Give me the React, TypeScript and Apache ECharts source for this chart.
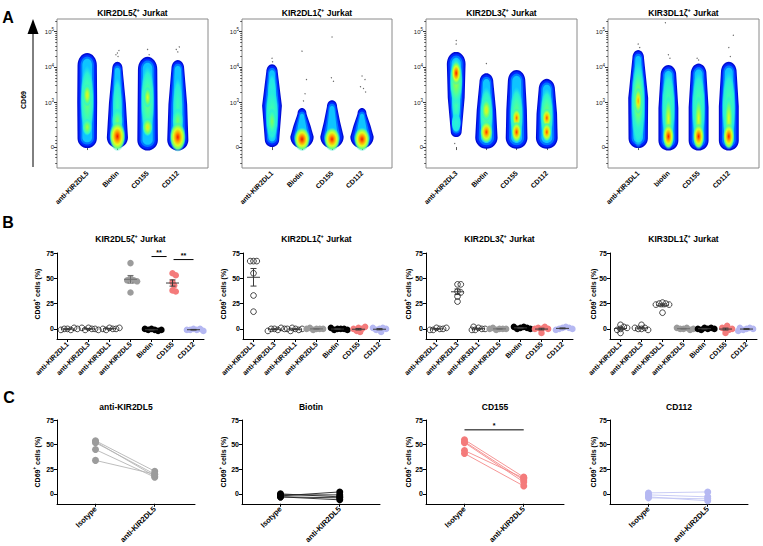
import React, { useEffect, useRef } from 'react';
import * as echarts from 'echarts';

const FONT = '"Liberation Sans", Arial, Helvetica, sans-serif';

// ---------------- Panel A (flow density plots) ----------------
const A_TITLES = ['KIR2DL5ζ', 'KIR2DL1ζ', 'KIR2DL3ζ', 'KIR3DL1ζ'];
const A_X_LABELS = [
  ['anti-KIR2DL5', 'Biotin', 'CD155', 'CD112'],
  ['anti-KIR2DL1', 'Biotin', 'CD155', 'CD112'],
  ['anti-KIR2DL3', 'Biotin', 'CD155', 'CD112'],
  ['anti-KIR3DL1', 'biotin', 'CD155', 'CD112'],
];
const A_Y_TICKS = [0, 1.25, 2.25, 3.25];
const A_Y_EXP = ['', '3', '4', '5'];
const A_Y_MINOR = [
  -0.45, -0.3, -0.2, -0.1, 0.1, 0.2, 0.3,
  0.55, 0.73, 0.85, 0.95, 1.03, 1.1, 1.15, 1.2,
  1.55, 1.73, 1.85, 1.95, 2.03, 2.1, 2.15, 2.2,
  2.55, 2.73, 2.85, 2.95, 3.03, 3.1, 3.15, 3.2, 3.55,
];
// body: [column, bottom, top, halfWidthLow, halfWidthMid, halfWidthHigh]
const A1_BODY = [
  [1, -0.03, 2.65, 0.32, 0.33, 0.32],
  [2, -0.03, 2.4, 0.35, 0.28, 0.17],
  [3, -0.1, 2.54, 0.34, 0.33, 0.32],
  [4, -0.1, 2.45, 0.35, 0.31, 0.21],
];
const A2_BODY = [
  [1, 0.0, 2.33, 0.24, 0.33, 0.19],
  [2, -0.04, 1.1, 0.39, 0.28, 0.15],
  [3, -0.04, 1.32, 0.39, 0.27, 0.17],
  [4, -0.04, 1.1, 0.39, 0.28, 0.15],
];
const A3_BODY = [
  [1, 0.28, 2.68, 0.18, 0.28, 0.31],
  [2, -0.05, 2.08, 0.37, 0.32, 0.23],
  [3, -0.05, 2.17, 0.36, 0.34, 0.29],
  [4, -0.05, 1.92, 0.36, 0.34, 0.27],
];
const A4_BODY = [
  [1, -0.03, 2.73, 0.32, 0.33, 0.19],
  [2, -0.1, 2.31, 0.33, 0.33, 0.26],
  [3, -0.1, 2.35, 0.33, 0.33, 0.26],
  [4, -0.1, 2.4, 0.33, 0.33, 0.26],
];
// hot spots: [column, centre, halfHeight, halfWidth, level]
const A1_HOT = [
  [1, 1.3, 1.0, 0.23, 0.56], [1, 1.46, 0.32, 0.14, 0.7], [1, 0.56, 0.24, 0.16, 0.62],
  [2, 1.1, 0.85, 0.16, 0.5], [2, 0.75, 0.35, 0.18, 0.57], [2, 0.3, 0.42, 0.27, 0.94],
  [3, 1.3, 1.0, 0.23, 0.56], [3, 1.4, 0.3, 0.13, 0.68], [3, 0.56, 0.26, 0.17, 0.71],
  [4, 1.1, 0.85, 0.16, 0.5], [4, 0.75, 0.35, 0.18, 0.57], [4, 0.28, 0.42, 0.27, 0.93],
];
const A2_HOT = [
  [1, 1.5, 0.55, 0.14, 0.46], [1, 0.9, 0.78, 0.22, 0.52], [1, 0.72, 0.38, 0.15, 0.58],
  [2, 0.22, 0.34, 0.27, 0.95],
  [3, 0.22, 0.34, 0.27, 0.93],
  [4, 0.22, 0.34, 0.27, 0.94],
];
const A3_HOT = [
  [1, 1.3, 0.65, 0.15, 0.52], [1, 1.85, 0.68, 0.22, 0.62], [1, 2.08, 0.34, 0.17, 0.93], [1, 0.68, 0.27, 0.16, 0.46],
  [2, 0.9, 0.8, 0.22, 0.56], [2, 1.04, 0.32, 0.16, 0.71], [2, 0.42, 0.32, 0.21, 0.9],
  [3, 0.9, 0.8, 0.22, 0.56], [3, 0.82, 0.27, 0.15, 0.86], [3, 0.42, 0.3, 0.17, 0.9],
  [4, 0.9, 0.75, 0.22, 0.58], [4, 0.82, 0.27, 0.16, 0.88], [4, 0.42, 0.27, 0.16, 0.88],
];
const A4_HOT = [
  [1, 1.2, 1.25, 0.24, 0.52], [1, 1.3, 0.95, 0.2, 0.63], [1, 1.3, 0.38, 0.13, 0.8],
  [2, 1.1, 1.05, 0.23, 0.53], [2, 0.8, 0.65, 0.14, 0.68], [2, 0.3, 0.37, 0.19, 0.93],
  [3, 1.1, 1.05, 0.23, 0.53], [3, 0.8, 0.65, 0.14, 0.68], [3, 0.3, 0.37, 0.19, 0.93],
  [4, 1.1, 1.05, 0.23, 0.53], [4, 0.8, 0.65, 0.14, 0.68], [4, 0.3, 0.37, 0.19, 0.93],
];
// sparse events: [x, y]
const A1_DOTS = [[2.0, 2.65], [2.05, 2.72], [1.95, 2.6], [3.0, 2.75], [3.05, 2.6], [3.95, 2.75], [4.05, 2.82], [4.0, 2.68], [2.02, 2.55]];
const A2_DOTS = [[1.0, 2.5], [1.02, 2.4], [2.0, 2.7], [2.15, 1.9], [2.1, 1.5], [2.05, 1.3], [3.0, 3.1], [2.98, 1.95], [3.05, 1.85], [4.0, 2.0], [4.1, 1.9], [4.05, 1.65], [4.12, 1.55], [3.95, 1.7]];
const A3_DOTS = [[1.0, 3.0], [1.0, 2.9], [0.95, 0.1], [2.0, 2.35]];
const A4_DOTS = [[1.0, 2.9], [1.05, 2.8], [1.9, 3.5], [2.0, 2.6], [2.05, 2.5], [2.95, 2.5], [3.0, 2.45], [4.0, 2.8], [4.15, 3.15], [4.05, 2.55]];

// ---------------- Panel B (dot plots) ----------------
const B_TITLES = ['KIR2DL5ζ', 'KIR2DL1ζ', 'KIR2DL3ζ', 'KIR3DL1ζ'];
const B_CATS = ['anti-KIR2DL1', 'anti-KIR2DL3', 'anti-KIR3DL1', 'anti-KIR2DL5', 'Biotin', 'CD155', 'CD112'];
const B_KIND = ['open', 'open', 'open', 'gray', 'black', 'salmon', 'lavender'];
const B_Y_TICKS = [0, 25, 50, 75];
const B1_VALUES = [
  [0, -1, 0, 1, -1, 0],
  [1, 0, -1, 0, 1, -1],
  [1, 0, -1, 0, 0, 1],
  [65, 50, 48, 48, 47, 36],
  [0, -1, -1, -2, 0, -1],
  [55, 53, 46, 43, 38, 37],
  [0, -1, -1, 0, -1, -2],
];
const B2_VALUES = [
  [67, 67, 67, 55, 33, 17],
  [0, -1, 0, 1, -2, 0],
  [0, -1, 1, -2, 0, 0],
  [0, 0, -1, 0, 1, 0],
  [0, 0, -1, 0, 1, -1],
  [1, 0, -2, 0, 2, -3],
  [0, 1, -1, -3, 0, 1],
];
const B3_VALUES = [
  [1, 0, -1, 0, -1, 1],
  [44, 44, 37, 36, 32, 27],
  [1, 0, -1, 2, 0, -1],
  [0, 0, -1, 0, 1, 0],
  [1, 2, 0, 1, 2, 0],
  [0, 2, 1, 0, -4, 0],
  [1, 2, 0, 1, -1, 0],
];
const B4_VALUES = [
  [0, 2, 4, -1, -4, 1],
  [0, 1, 4, 0, -1, 1],
  [26, 25, 25, 24, 24, 16],
  [0, 1, 0, -1, 1, 0],
  [1, 0, -1, 1, 0, 0],
  [0, 3, -1, -4, 1, 0],
  [0, 1, -1, 0, 1, -2],
];
// significance on KIR2DL5 plot: [from, to, height]
const B1_SIG = [[4, 4.72, 71.5], [5.05, 6.0, 68.5]];
const B1_SIG_LABELS = ['**', '**'];

// ---------------- Panel C (paired plots) ----------------
const C_TITLES = ['anti-KIR2DL5', 'Biotin', 'CD155', 'CD112'];
const C_CATS = ['Isotype', 'anti-KIR2DL5'];
const C1_ISO = [54, 53, 52, 45, 34];
const C1_ANTI = [23, 18, 20, 17, 20];
const C2_ISO = [-1, -3, -2, 0, -3];
const C2_ANTI = [-1, -6, 2, -3, -4];
const C3_ISO = [55, 53, 52, 44, 41];
const C3_ANTI = [17, 14, 12, 16, 8];
const C4_ISO = [1, -1, -3, -4];
const C4_ANTI = [2, -3, -7, -5];
const C3_SIG = [[0, 1, 65]];
const C3_SIG_LABELS = ['*'];

// ---------------- styling / layout ----------------
const A_LEFT = [57, 242, 426, 608];
const A_W = [151, 150, 151, 151];
const B_LEFT = [57, 243, 426, 610];
const C_LEFT = [57, 242, 426, 610];
const Y_TITLE_X = [37, 223, 408, 593];

const COLORS: Record<string, string> = {
  open: '#1a1a1a', gray: '#9c9c9c', black: '#000000', salmon: '#f47b7b', lavender: '#b5b8f2',
};
const C_COLOR = ['#9c9c9c', '#000000', '#f47b7b', '#b5b8f2'];
const C_LINE = ['#b5b5b5', '#222222', '#f48a8a', '#c3c6f4'];

const JET: [number, number[]][] = [
  [0, [0, 0, 150]], [0.12, [0, 20, 255]], [0.3, [0, 140, 255]], [0.4, [20, 220, 255]],
  [0.5, [60, 255, 180]], [0.58, [130, 255, 90]], [0.68, [225, 255, 30]], [0.76, [255, 205, 0]],
  [0.84, [255, 120, 0]], [0.92, [255, 30, 0]], [1, [205, 0, 0]],
];
function jet(v: number, a = 1) {
  v = Math.max(0, Math.min(1, v));
  for (let i = 1; i < JET.length; i++) {
    if (v <= JET[i][0]) {
      const [p0, c0] = JET[i - 1];
      const [p1, c1] = JET[i];
      const t = (v - p0) / (p1 - p0);
      const c = c0.map((x, k) => Math.round(x + (c1[k] - x) * t));
      return `rgba(${c[0]},${c[1]},${c[2]},${a})`;
    }
  }
  return 'rgba(205,0,0,1)';
}
const LAYERS = [
  { f: 1, inset: 0, color: jet(0.07) },
  { f: 0.88, inset: 1.6, color: jet(0.15) },
  { f: 0.69, inset: 3.6, color: jet(0.27) },
  { f: 0.5, inset: 5.8, color: jet(0.37) },
];

function hotGradient(lvl: number) {
  const offs = [0, 0.3, 0.55, 0.78, 1];
  return {
    type: 'radial', x: 0.5, y: 0.5, r: 0.5,
    colorStops: offs.map((o, i) => ({
      offset: o,
      color: jet(lvl - (lvl - 0.42) * (i / (offs.length - 1)), i === offs.length - 1 ? 0 : 1),
    })),
  };
}

function profilePts(cx: number, yb: number, yt: number, wl: number, wm: number, wh: number) {
  const L = yb - yt;
  if (L < 2) return null;
  const capL = Math.min(Math.max(wl, 1), L * 0.4);
  const capH = Math.min(Math.max(wh * 1.3, 1), L * 0.4);
  const right: number[][] = [];
  const N = 8;
  for (let i = 0; i <= N; i++) {
    const th = (i / N) * Math.PI / 2;
    right.push([cx + wl * Math.sin(th), yb - capL * (1 - Math.cos(th))]);
  }
  const M = 10;
  const midLen = L - capL - capH;
  for (let i = 1; i < M; i++) {
    const t = i / M;
    const w = t < 0.5 ? wl + (wm - wl) * t * 2 : wm + (wh - wm) * (t - 0.5) * 2;
    right.push([cx + w, yb - capL - midLen * t]);
  }
  for (let i = N; i >= 0; i--) {
    const th = (i / N) * Math.PI / 2;
    right.push([cx + wh * Math.sin(th), yt + capH * (1 - Math.cos(th))]);
  }
  const left = right.slice().reverse().map((p) => [2 * cx - p[0], p[1]]);
  return right.concat(left);
}

function flowRender(body: number[][], hot: number[][]) {
  return (params: any, api: any) => {
    const [col, lo, hi, wl, wm, wh] = body[params.dataIndex];
    const cx = api.coord([col, 0])[0];
    const yLo = api.coord([col, lo])[1];
    const yHi = api.coord([col, hi])[1];
    const ux = api.size([1, 0])[0];
    const children: any[] = [];
    LAYERS.forEach((ly) => {
      const pts = profilePts(cx, yLo - ly.inset, yHi + ly.inset, wl * ux * ly.f, wm * ux * ly.f, wh * ux * ly.f);
      if (pts) children.push({ type: 'polygon', shape: { points: pts }, style: { fill: ly.color } });
    });
    hot.filter((h) => h[0] === col).forEach((h) => {
      const [c, yc, hh, hw, lvl] = h;
      const p = api.coord([c, yc]);
      const ry = Math.abs(api.size([0, hh])[1]);
      children.push({ type: 'ellipse', shape: { cx: p[0], cy: p[1], rx: hw * ux, ry }, style: { fill: hotGradient(lvl) } });
    });
    return { type: 'group', children };
  };
}

const DOT = 6.5;
function swarm(ys: number[]) {
  const placed: { x: number; y: number }[] = [];
  const minDist = 3.3;
  const step = 1.65;
  return ys.map((y) => {
    let off = 0;
    for (let k = 0; k < 40; k++) {
      const cand = k === 0 ? 0 : (k % 2 ? 1 : -1) * Math.ceil(k / 2) * step;
      if (placed.every((p) => Math.hypot(p.x - cand, p.y - y) >= minDist)) { off = cand; break; }
    }
    placed.push({ x: off, y });
    return off;
  });
}
const mean = (a: number[]) => a.reduce((s, x) => s + x, 0) / a.length;
const sem = (a: number[]) => {
  const m = mean(a);
  return Math.sqrt(a.reduce((s, x) => s + (x - m) * (x - m), 0) / (a.length - 1)) / Math.sqrt(a.length);
};

function dotRender(values: number[][]) {
  return (params: any, api: any) => {
    const g = params.dataIndex;
    const vals = values[g];
    const kind = B_KIND[g];
    const cx = api.coord([g, 0])[0];
    const ys = vals.map((v) => api.coord([g, v])[1]);
    const offs = swarm(ys);
    const children: any[] = [];
    ys.forEach((y, i) => {
      children.push({
        type: 'circle',
        shape: { cx: cx + offs[i], cy: y, r: kind === 'open' ? DOT / 2 - 0.4 : DOT / 2 },
        style: kind === 'open' ? { fill: 'none', stroke: COLORS.open, lineWidth: 0.8 } : { fill: COLORS[kind] },
      });
    });
    const m = mean(vals);
    const s = sem(vals);
    const yM = api.coord([g, m])[1];
    const yA = api.coord([g, m + s])[1];
    const yB = api.coord([g, m - s])[1];
    const lc = kind === 'gray' ? '#6e6e6e' : '#3a3a3a';
    const ls = { stroke: lc, lineWidth: 1 };
    children.push({ type: 'line', shape: { x1: cx - 6.5, y1: yM, x2: cx + 6.5, y2: yM }, style: ls });
    children.push({ type: 'line', shape: { x1: cx, y1: yA, x2: cx, y2: yB }, style: ls });
    children.push({ type: 'line', shape: { x1: cx - 3, y1: yA, x2: cx + 3, y2: yA }, style: ls });
    children.push({ type: 'line', shape: { x1: cx - 3, y1: yB, x2: cx + 3, y2: yB }, style: ls });
    return { type: 'group', children };
  };
}

function sigRender(sig: number[][], labels: string[]) {
  return (params: any, api: any) => {
    const [x1, x2, y] = sig[params.dataIndex];
    const p1 = api.coord([x1, y]);
    const p2 = api.coord([x2, y]);
    return {
      type: 'group',
      children: [
        { type: 'line', shape: { x1: p1[0], y1: p1[1], x2: p2[0], y2: p2[1] }, style: { stroke: '#000', lineWidth: 1 } },
        {
          type: 'text', x: (p1[0] + p2[0]) / 2, y: p1[1] - 0.5,
          style: { text: labels[params.dataIndex], align: 'center', verticalAlign: 'bottom', fontSize: 7, fontWeight: 'bold', fontFamily: FONT, fill: '#000' },
        },
      ],
    };
  };
}

function supText(main: string, rest: string, fs: number, x: number, y: number, rotate = 0) {
  return {
    type: 'text', x, y, rotation: rotate,
    style: {
      text: `{t|${main}}{u|+}{t|${rest}}`,
      align: 'center', verticalAlign: 'middle', fill: '#000',
      rich: {
        t: { fontSize: fs, fontWeight: 'bold', fontFamily: FONT, fill: '#000' },
        u: { fontSize: fs * 0.65, fontWeight: 'bold', fontFamily: FONT, fill: '#000', padding: [0, 0, fs * 0.7, 0] },
      },
    },
  };
}

function buildOption() {
  const grid: any[] = [];
  const xAxis: any[] = [];
  const yAxis: any[] = [];
  const series: any[] = [];
  const graphic: any[] = [];

  const A_BODIES = [A1_BODY, A2_BODY, A3_BODY, A4_BODY];
  const A_HOTS = [A1_HOT, A2_HOT, A3_HOT, A4_HOT];
  const A_DOTS = [A1_DOTS, A2_DOTS, A3_DOTS, A4_DOTS];
  const B_VALUES = [B1_VALUES, B2_VALUES, B3_VALUES, B4_VALUES];
  const C_ISO = [C1_ISO, C2_ISO, C3_ISO, C4_ISO];
  const C_ANTI = [C1_ANTI, C2_ANTI, C3_ANTI, C4_ANTI];

  const xLabel = (fs: number) => ({ rotate: 45, fontSize: fs, fontWeight: 'bold', fontFamily: FONT, color: '#000', margin: 4 });
  const yLabel = { fontSize: 7, fontWeight: 'bold', fontFamily: FONT, color: '#000', margin: 3 };

  // A grids 0..3
  for (let i = 0; i < 4; i++) {
    grid.push({ left: A_LEFT[i], top: 19, width: A_W[i], height: 149, show: true, borderColor: '#8a8a8a', borderWidth: 1, backgroundColor: 'transparent' });
    const labels = A_X_LABELS[i];
    xAxis.push({
      gridIndex: i, type: 'value', min: 0, max: 5,
      axisLine: { show: false }, splitLine: { show: false },
      axisTick: { show: true, customValues: [1, 2, 3, 4], length: 3, lineStyle: { color: '#555' } },
      axisLabel: { ...xLabel(7), customValues: [1, 2, 3, 4], formatter: (v: number) => labels[Math.round(v) - 1] },
    });
    graphic.push(supText(A_TITLES[i], ' Jurkat', 8.5, A_LEFT[i] + A_W[i] / 2, 13));
  }
  // B grids 4..7
  for (let i = 0; i < 4; i++) {
    grid.push({ left: B_LEFT[i], top: 253, width: 147, height: 86 });
    xAxis.push({
      gridIndex: 4 + i, type: 'value', min: -0.5, max: 6.5,
      axisLine: { onZero: false, lineStyle: { color: '#000', width: 1 } }, splitLine: { show: false },
      axisTick: { customValues: [0, 1, 2, 3, 4, 5, 6], length: 3, lineStyle: { color: '#000' } },
      axisLabel: { ...xLabel(7), customValues: [0, 1, 2, 3, 4, 5, 6], formatter: (v: number) => B_CATS[Math.round(v)] },
    });
    graphic.push(supText(B_TITLES[i], ' Jurkat', 8.5, B_LEFT[i] + 73.5, 239));
    graphic.push(supText('CD69', ' cells (%)', 7, Y_TITLE_X[i], 294, Math.PI / 2));
  }
  // C grids 8..11
  for (let i = 0; i < 4; i++) {
    grid.push({ left: C_LEFT[i], top: 420, width: 138, height: 86 });
    xAxis.push({
      gridIndex: 8 + i, type: 'value', min: -0.65, max: 1.68,
      axisLine: { onZero: false, lineStyle: { color: '#000', width: 1 } }, splitLine: { show: false },
      axisTick: { customValues: [0, 1], length: 3, lineStyle: { color: '#000' } },
      axisLabel: { ...xLabel(7.5), customValues: [0, 1], formatter: (v: number) => C_CATS[Math.round(v)] },
    });
    graphic.push({
      type: 'text', x: C_LEFT[i] + 69, y: 407,
      style: { text: C_TITLES[i], align: 'center', verticalAlign: 'middle', fontSize: 8.5, fontWeight: 'bold', fontFamily: FONT, fill: '#000' },
    });
    graphic.push(supText('CD69', ' cells (%)', 7, Y_TITLE_X[i], 462, Math.PI / 2));
  }

  // main y axes 0..11
  for (let g = 0; g < 12; g++) {
    if (g < 4) {
      yAxis.push({
        gridIndex: g, type: 'value', min: -0.59, max: 3.606,
        axisLine: { show: false }, splitLine: { show: false },
        axisTick: { customValues: A_Y_TICKS, length: 3, lineStyle: { color: '#333' } },
        axisLabel: {
          customValues: A_Y_TICKS, margin: 3, fontSize: 6, fontFamily: FONT, color: '#222',
          formatter: (v: number) => {
            const k = A_Y_TICKS.findIndex((t) => Math.abs(t - v) < 1e-6);
            return k <= 0 ? '{b|0}' : `{b|10}{s|${A_Y_EXP[k]}}`;
          },
          rich: {
            b: { fontSize: 6, fontFamily: FONT, color: '#222' },
            s: { fontSize: 4.5, fontFamily: FONT, color: '#222', padding: [0, 0, 4, 0] },
          },
        },
      });
    } else {
      yAxis.push({
        gridIndex: g, type: 'value', min: -10, max: 75,
        axisLine: { show: true, onZero: false, lineStyle: { color: '#000', width: 1 } }, splitLine: { show: false },
        axisTick: { show: true, customValues: B_Y_TICKS, length: 3, lineStyle: { color: '#000' } },
        axisLabel: { ...yLabel, customValues: B_Y_TICKS },
      });
    }
  }
  // minor ticks for A (12..15)
  for (let i = 0; i < 4; i++) {
    yAxis.push({
      gridIndex: i, type: 'value', min: -0.59, max: 3.606, position: 'left',
      axisLine: { show: false }, splitLine: { show: false }, axisLabel: { show: false },
      axisTick: { show: true, customValues: A_Y_MINOR, length: 1.8, lineStyle: { color: '#333', width: 0.8 } },
    });
  }

  // A series
  for (let i = 0; i < 4; i++) {
    series.push({
      type: 'custom', xAxisIndex: i, yAxisIndex: i, silent: true, clip: false,
      data: A_BODIES[i].map((b) => [b[0], (b[1] + b[2]) / 2]),
      renderItem: flowRender(A_BODIES[i], A_HOTS[i]),
    });
    series.push({
      type: 'scatter', xAxisIndex: i, yAxisIndex: i, silent: true,
      data: A_DOTS[i], symbolSize: 1.3, itemStyle: { color: '#444' },
    });
  }
  // B series
  for (let i = 0; i < 4; i++) {
    series.push({
      type: 'custom', xAxisIndex: 4 + i, yAxisIndex: 4 + i, silent: true, clip: false,
      data: B_VALUES[i].map((v, g) => [g, mean(v)]),
      renderItem: dotRender(B_VALUES[i]),
    });
  }
  series.push({
    type: 'custom', xAxisIndex: 4, yAxisIndex: 4, silent: true, clip: false,
    data: B1_SIG.map((s) => [s[0], s[2]]),
    renderItem: sigRender(B1_SIG, B1_SIG_LABELS),
  });
  // C series
  for (let i = 0; i < 4; i++) {
    C_ISO[i].forEach((iso, k) => {
      series.push({
        type: 'line', xAxisIndex: 8 + i, yAxisIndex: 8 + i, silent: true,
        data: [[0, iso], [1, C_ANTI[i][k]]],
        symbol: 'circle', symbolSize: 7,
        itemStyle: { color: C_COLOR[i] },
        lineStyle: { color: C_LINE[i], width: 0.9 },
      });
    });
  }
  series.push({
    type: 'custom', xAxisIndex: 10, yAxisIndex: 10, silent: true, clip: false,
    data: C3_SIG.map((s) => [s[0], s[2]]),
    renderItem: sigRender(C3_SIG, C3_SIG_LABELS),
  });

  // panel letters, CD69 arrow
  const letter = (t: string, x: number, y: number) => ({
    type: 'text', x, y,
    style: { text: t, align: 'center', verticalAlign: 'middle', fontSize: 16, fontWeight: 'bold', fontFamily: FONT, fill: '#000' },
  });
  graphic.push(letter('A', 8, 17));
  graphic.push(letter('B', 8, 222));
  graphic.push(letter('C', 9, 397));
  graphic.push({ type: 'line', shape: { x1: 33, y1: 30, x2: 33, y2: 167 }, style: { stroke: '#000', lineWidth: 1 } });
  graphic.push({ type: 'polygon', shape: { points: [[33, 19], [27.5, 34], [38.5, 34]] }, style: { fill: '#000' } });
  graphic.push({
    type: 'text', x: 23, y: 100, rotation: Math.PI / 2,
    style: { text: 'CD69', align: 'center', verticalAlign: 'middle', fontSize: 7, fontWeight: 'bold', fontFamily: FONT, fill: '#000' },
  });

  return { animation: false, backgroundColor: '#fff', grid, xAxis, yAxis, series, graphic };
}

export default function App() {
  const ref = useRef<HTMLDivElement>(null);
  useEffect(() => {
    const chart = echarts.init(ref.current!, null, { renderer: 'svg' });
    chart.setOption(buildOption() as any);
    return () => chart.dispose();
  }, []);
  return <div ref={ref} style={{ position: 'fixed', left: 0, top: 0, width: 763, height: 546, background: '#fff' }} />;
}
